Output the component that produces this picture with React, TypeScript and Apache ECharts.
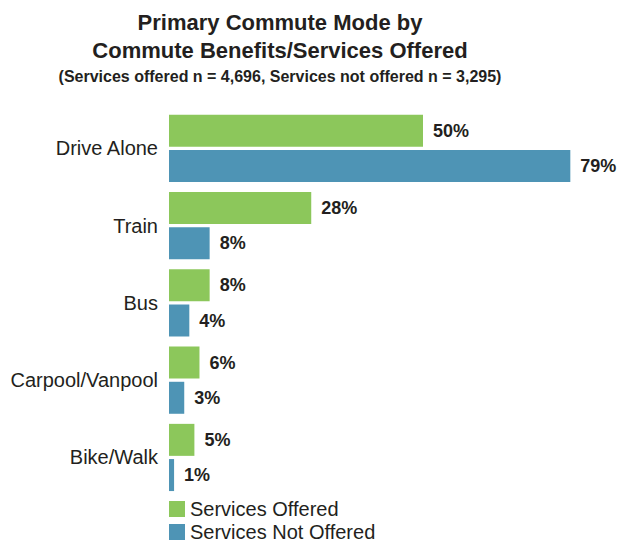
import React, { useEffect, useRef } from "react";
import * as echarts from "echarts";

const categories = ["Drive Alone", "Train", "Bus", "Carpool/Vanpool", "Bike/Walk"];
const offered = [50, 28, 8, 6, 5];
const notOffered = [79, 8, 4, 3, 1];
const seriesNames = ["Services Offered", "Services Not Offered"];
const titleLines = ["Primary Commute Mode by", "Commute Benefits/Services Offered"];
const subtitle = "(Services offered n = 4,696, Services not offered n = 3,295)";

const FONT = "'Liberation Sans', Arial, sans-serif";
const TEXT = "#231f20";
const GREEN = "#8cc75b";
const BLUE = "#4e94b5";

export default function App() {
  const ref = useRef<HTMLDivElement>(null);
  useEffect(() => {
    document.body.style.margin = "0";
    const chart = echarts.init(ref.current!, null, { renderer: "svg" });
    const labelStyle = {
      show: true,
      position: "right" as const,
      distance: 10,
      formatter: "{c}%",
      color: TEXT,
      fontFamily: FONT,
      fontWeight: "bold" as const,
      fontSize: 18,
    };
    const legendBase = {
      orient: "horizontal",
      left: 169,
      itemWidth: 16,
      itemHeight: 16,
      icon: "rect",
      padding: 0,
      textStyle: { fontSize: 20, color: TEXT, fontFamily: FONT },
    };
    chart.setOption({
      animation: false,
      textStyle: { fontFamily: FONT },
      graphic: [
        {
          type: "text",
          x: 280,
          y: 22.5,
          style: {
            text: titleLines[0],
            textAlign: "center",
            textVerticalAlign: "middle",
            font: `bold 22px ${FONT}`,
            fill: TEXT,
          },
        },
        {
          type: "text",
          x: 280,
          y: 50.5,
          style: {
            text: titleLines[1],
            textAlign: "center",
            textVerticalAlign: "middle",
            font: `bold 22px ${FONT}`,
            fill: TEXT,
          },
        },
        {
          type: "text",
          x: 280,
          y: 76,
          style: {
            text: subtitle,
            textAlign: "center",
            textVerticalAlign: "middle",
            font: `bold 16px ${FONT}`,
            fill: TEXT,
          },
        },
      ],
      legend: [
        { ...legendBase, top: 499, data: [seriesNames[0]] },
        { ...legendBase, top: 522, data: [seriesNames[1]] },
      ],
      grid: { left: 169, right: 45.6, top: 109.7, bottom: 45.9, containLabel: false },
      xAxis: { type: "value", min: 0, max: 80, show: false },
      yAxis: {
        type: "category",
        data: categories,
        inverse: true,
        axisLine: { show: false },
        axisTick: { show: false },
        splitLine: { show: false },
        axisLabel: { fontSize: 20, color: TEXT, fontFamily: FONT, margin: 11 },
      },
      series: [
        {
          name: seriesNames[0],
          type: "bar",
          data: offered,
          barWidth: 32,
          barGap: "10%",
          itemStyle: { color: GREEN },
          label: labelStyle,
        },
        {
          name: seriesNames[1],
          type: "bar",
          data: notOffered,
          barWidth: 32,
          barGap: "10%",
          itemStyle: { color: BLUE },
          label: labelStyle,
        },
      ],
    });
    return () => chart.dispose();
  }, []);
  return (
    <div
      ref={ref}
      style={{ position: "absolute", left: 0, top: 0, width: 621, height: 542, background: "#fff" }}
    />
  );
}
